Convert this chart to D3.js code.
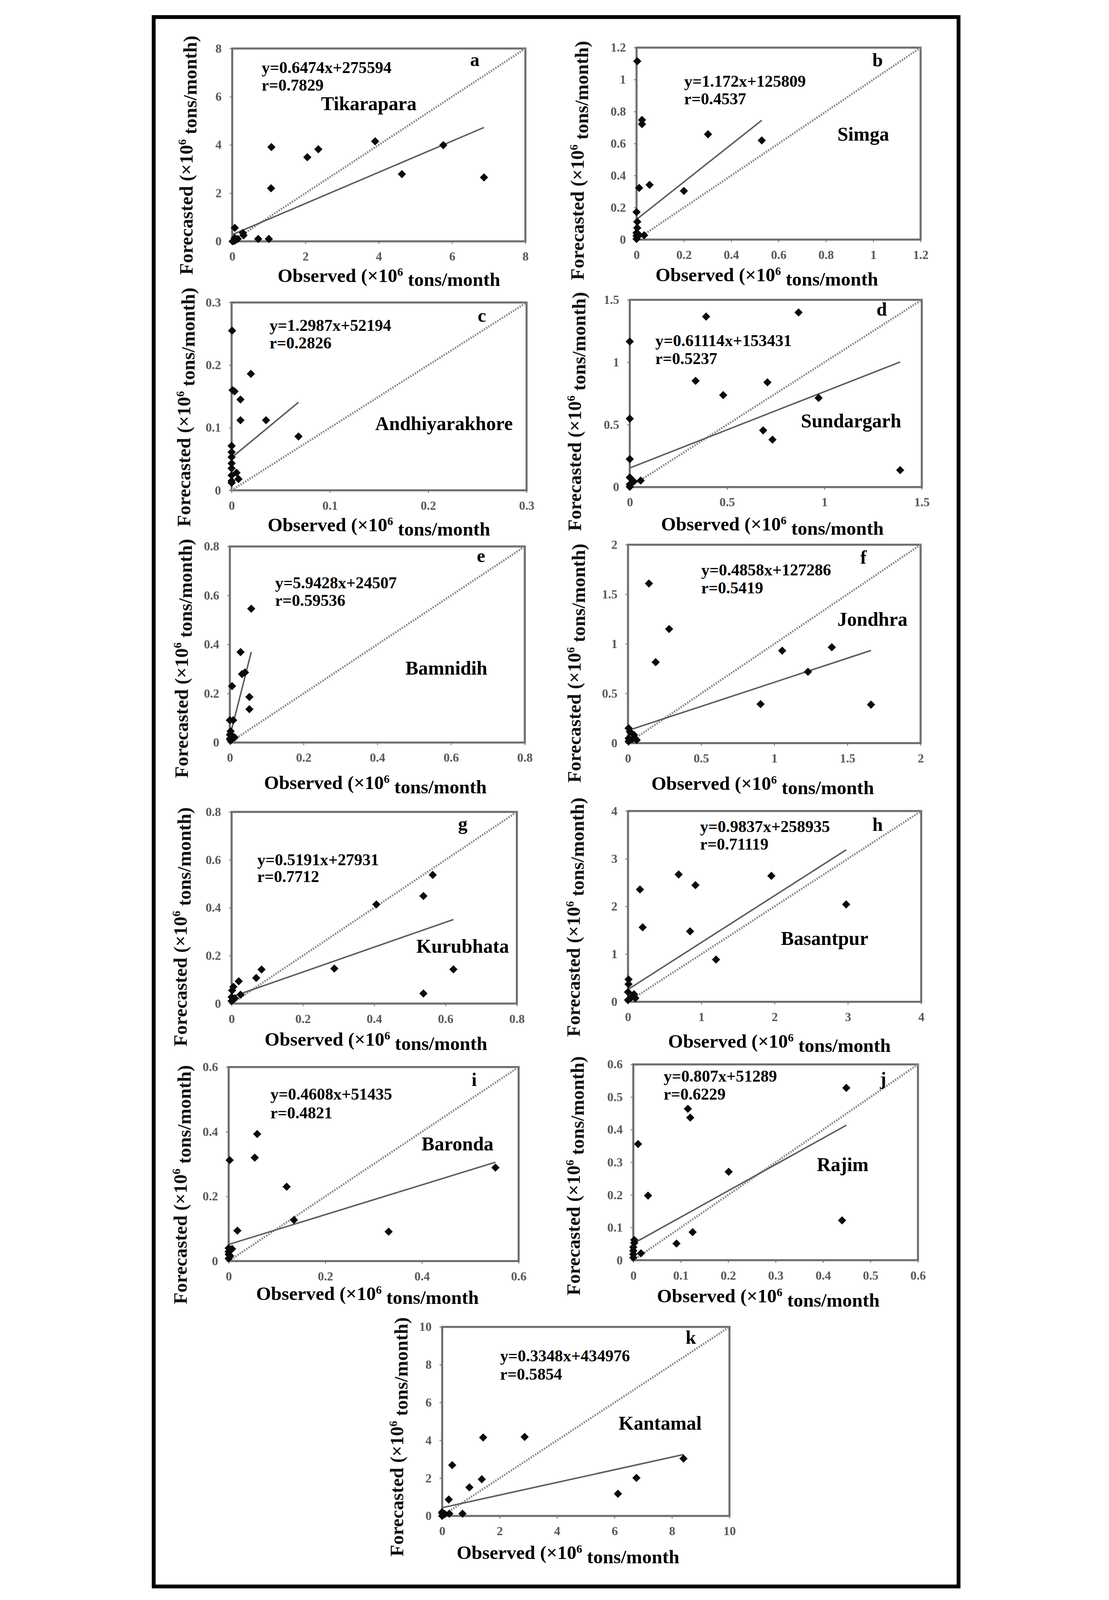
<!doctype html>
<meta charset="utf-8">
<style>
  html, body { margin: 0; padding: 0; background: #fff; overflow: hidden; }
  svg { display: block; }
  text { font-family: "Liberation Serif", "Times New Roman", serif; font-weight: bold; }
  .tick text { fill: #595959; font-size: 42px; }
  .tick line { stroke: #777; stroke-width: 3; }
</style>
<body>
<script src="https://cdnjs.cloudflare.com/ajax/libs/d3/7.8.5/d3.min.js"></script>
<script>
// panels a..k
var stations = ['Tikarapara', 'Simga', 'Andhiyarakhore', 'Sundargarh', 'Bamnidih', 'Jondhra',
                'Kurubhata', 'Basantpur', 'Baronda', 'Rajim', 'Kantamal'];
var letters = ['a', 'b', 'c', 'd', 'e', 'f', 'g', 'h', 'i', 'j', 'k'];
var slopes = [0.6474, 1.172, 1.2987, 0.61114, 5.9428, 0.4858, 0.5191, 0.9837, 0.4608, 0.807, 0.3348];
var intercepts = [275594, 125809, 52194, 153431, 24507, 127286, 27931, 258935, 51435, 51289, 434976];
var rValues = ['0.7829', '0.4537', '0.2826', '0.5237', '0.59536', '0.5419', '0.7712', '0.71119', '0.4821', '0.6229', '0.5854'];
var axisMax = [8, 1.2, 0.3, 1.5, 0.8, 2, 0.8, 4, 0.6, 0.6, 10];
var tickCounts = [4, 6, 3, 3, 4, 4, 4, 4, 3, 6, 5];

// observed / forecasted (x10^6 tons/month)
var obsTikarapara = [1.07, 2.35, 2.05, 3.90, 5.76, 4.63, 6.87, 1.06, 0.71, 1.00, 0.07, 0.29, 0.31, 0.07, 0.10, 0.01, 0.06, 0.15];
var fcTikarapara  = [3.91, 3.82, 3.49, 4.15, 3.99, 2.79, 2.65, 2.20, 0.10, 0.10, 0.56, 0.35, 0.25, 0.14, 0.06, 0.00, 0.02, 0.10];
var obsSimga = [0.003, 0.023, 0.023, 0.302, 0.529, 0.055, 0.011, 0.200, 0.000, 0.003, 0.003, 0.000, 0.000, 0.011, 0.032, 0.000];
var fcSimga  = [1.115, 0.748, 0.722, 0.658, 0.620, 0.342, 0.323, 0.304, 0.172, 0.111, 0.073, 0.042, 0.023, 0.029, 0.027, 0.004];
var obsAndhiyarakhore = [0.0005, 0.0196, 0.001, 0.003, 0.009, 0.009, 0.035, 0.068, 0, 0, 0, 0, 0, 0.005, 0, 0.007, 0, 0];
var fcAndhiyarakhore  = [0.255, 0.186, 0.160, 0.158, 0.145, 0.112, 0.112, 0.086, 0.071, 0.061, 0.053, 0.043, 0.035, 0.028, 0.024, 0.018, 0.015, 0.012];
var obsSundargarh = [0.392, 0.867, 0, 0.338, 0.707, 0.480, 0.970, 0, 0.685, 0.733, 0, 1.389, 0, 0.020, 0.056, 0, 0];
var fcSundargarh  = [1.366, 1.399, 1.166, 0.851, 0.839, 0.737, 0.714, 0.548, 0.454, 0.380, 0.224, 0.136, 0.077, 0.046, 0.052, 0.021, 0.002];
var obsBamnidih = [0.058, 0.029, 0.033, 0.041, 0.006, 0.053, 0.053, 0, 0.009, 0.002, 0, 0.007, 0.013, 0, 0.002];
var fcBamnidih  = [0.546, 0.369, 0.279, 0.286, 0.230, 0.186, 0.136, 0.091, 0.091, 0.046, 0.032, 0.026, 0.021, 0.015, 0.008];
var obsJondhra = [0.143, 0.281, 0.189, 1.054, 1.393, 1.230, 0.906, 1.661, 0.004, 0.013, 0.041, 0.004, 0.059, 0.004, 0.030];
var fcJondhra  = [1.609, 1.150, 0.816, 0.932, 0.966, 0.719, 0.393, 0.388, 0.150, 0.116, 0.082, 0.048, 0.031, 0.017, 0.040];
var obsKurubhata = [0.564, 0.538, 0.406, 0.288, 0.622, 0.538, 0.084, 0.069, 0.020, 0.005, 0.0015, 0.025, 0, 0.009, 0];
var fcKurubhata  = [0.537, 0.449, 0.414, 0.146, 0.143, 0.042, 0.142, 0.107, 0.093, 0.070, 0.055, 0.037, 0.027, 0.022, 0.011];
var obsBasantpur = [0.691, 1.956, 0.920, 0.163, 2.976, 0.200, 0.847, 1.201, 0.007, 0.007, 0, 0.081, 0.044, 0.100, 0];
var fcBasantpur  = [2.670, 2.641, 2.445, 2.356, 2.042, 1.562, 1.477, 0.886, 0.469, 0.369, 0.203, 0.159, 0.092, 0.074, 0.037];
var obsBaronda = [0.059, 0.054, 0.002, 0.120, 0.552, 0.135, 0.018, 0.331, 0.007, 0, 0, 0.003, 0, 0];
var fcBaronda  = [0.393, 0.320, 0.312, 0.230, 0.289, 0.127, 0.094, 0.091, 0.0375, 0.029, 0.021, 0.016, 0.008, 0.040];
var obsRajim = [0.449, 0.115, 0.120, 0.010, 0.201, 0.031, 0.440, 0.125, 0.091, 0.002, 0.002, 0, 0, 0.016, 0, 0];
var fcRajim  = [0.528, 0.464, 0.437, 0.356, 0.271, 0.198, 0.122, 0.086, 0.051, 0.062, 0.053, 0.040, 0.029, 0.021, 0.018, 0.008];
var obsKantamal = [1.426, 2.870, 0.350, 1.380, 0.948, 8.40, 6.762, 6.118, 0.230, 0.708, 0, 0.09, 0.248, 0, 0];
var fcKantamal  = [4.149, 4.179, 2.687, 1.940, 1.512, 3.035, 2.010, 1.174, 0.866, 0.119, 0.199, 0.10, 0.119, 0, 0.15];

var observed = [obsTikarapara, obsSimga, obsAndhiyarakhore, obsSundargarh, obsBamnidih, obsJondhra,
                obsKurubhata, obsBasantpur, obsBaronda, obsRajim, obsKantamal];
var forecasted = [fcTikarapara, fcSimga, fcAndhiyarakhore, fcSundargarh, fcBamnidih, fcJondhra,
                  fcKurubhata, fcBasantpur, fcBaronda, fcRajim, fcKantamal];

// page layout (pixels): plot box, annotation spots, axis titles
var layout = [
  {box: [323, 165, 1320, 821],   eq: [423, 248, 308],    name: [625, 375],   let: [1132, 225],  xt: [856, 959],   yt: [188, 528]},
  {box: [1698, 162, 2664, 815],  eq: [1860, 295, 355],   name: [2381, 479],  let: [2500, 226],  xt: [2141, 957],  yt: [1519, 546]},
  {box: [321, 1029, 1324, 1668], eq: [450, 1125, 1185],  name: [809, 1463],  let: [1158, 1095], xt: [822, 1807],  yt: [181, 1385]},
  {box: [1675, 1020, 2668, 1657],eq: [1762, 1177, 1238], name: [2257, 1454], let: [2514, 1074], xt: [2160, 1805], yt: [1510, 1400]},
  {box: [315, 1859, 1318, 2526], eq: [469, 2001, 2061],  name: [912, 2295],  let: [1155, 1912], xt: [810, 2684],  yt: [172, 2240]},
  {box: [1669, 1853, 2664, 2528],eq: [1918, 1958, 2018], name: [2381, 2129], let: [2459, 1917], xt: [2127, 2687], yt: [1508, 2256]},
  {box: [321, 2762, 1291, 3414], eq: [408, 2944, 3001],  name: [949, 3241],  let: [1091, 2824], xt: [812, 3558],  yt: [168, 3153]},
  {box: [1669, 2759, 2666, 3408],eq: [1914, 2830, 2890], name: [2189, 3214], let: [2500, 2827], xt: [2184, 3564], yt: [1505, 3120]},
  {box: [311, 3630, 1297, 4290], eq: [453, 3741, 3805],  name: [967, 3913],  let: [1137, 3694], xt: [783, 4422],  yt: [168, 4030]},
  {box: [1687, 3621, 2655, 4287],eq: [1790, 3680, 3741], name: [2311, 3984], let: [2526, 3691], xt: [2146, 4431], yt: [1505, 4000]},
  {box: [1037, 4514, 2014, 5157],eq: [1234, 4631, 4693], name: [1637, 4864], let: [1865, 4571], xt: [1465, 5304], yt: [905, 4888]}
];

var W = 2838, H = 5443;
// fit the whole figure into whatever viewport we get
var vw = window.innerWidth || W, vh = window.innerHeight || H;
var svg = d3.select('body').append('svg')
  .attr('width', vw).attr('height', vh)
  .attr('viewBox', '0 0 ' + W + ' ' + H)
  .attr('preserveAspectRatio', 'xMidYMin meet');

svg.append('rect').attr('width', W).attr('height', H).attr('fill', '#fff');
// outer frame
svg.append('rect')
  .attr('x', 56).attr('y', 58).attr('width', 2737).attr('height', 5339)
  .attr('fill', 'none').attr('stroke', '#000').attr('stroke-width', 13);

var fmt = d3.format('~g');

function diamond(w, h){
  return 'M0,' + (-h) + 'L' + w + ',0L0,' + h + 'L' + (-w) + ',0Z';
}

function superText(sel, before, after){
  sel.append('tspan').text(before);
  sel.append('tspan').text('6').attr('font-size', '0.6em').attr('dy', '-0.55em');
  sel.append('tspan').text(after).attr('dy', '0.55em');
}

stations.forEach(function(name, i){
  var L = layout[i], b = L.box, max = axisMax[i];
  var x = d3.scaleLinear().domain([0, max]).range([b[0], b[2]]);
  var y = d3.scaleLinear().domain([0, max]).range([b[3], b[1]]);
  var ticks = d3.ticks(0, max, tickCounts[i]);
  var g = svg.append('g').attr('class', 'panel ' + letters[i]);

  // axes (ticks + labels only, frame drawn below)
  g.append('g').attr('transform', 'translate(0,' + b[3] + ')')
    .call(d3.axisBottom(x).tickValues(ticks).tickFormat(fmt).tickSize(9).tickPadding(27))
    .call(function(a){ a.select('.domain').remove(); });
  g.append('g').attr('transform', 'translate(' + b[0] + ',0)')
    .call(d3.axisLeft(y).tickValues(ticks).tickFormat(fmt).tickSize(9).tickPadding(27))
    .call(function(a){ a.select('.domain').remove(); });
  g.selectAll('.tick text').attr('font-family', null);

  // plot frame
  g.append('rect')
    .attr('x', x(0)).attr('y', y(max))
    .attr('width', x(max) - x(0)).attr('height', y(0) - y(max))
    .attr('fill', 'none').attr('stroke', '#6f6f6f').attr('stroke-width', 7);

  // 1:1 line
  g.append('line')
    .attr('x1', x(0)).attr('y1', y(0)).attr('x2', x(max)).attr('y2', y(max))
    .attr('stroke', '#8c8c8c').attr('stroke-width', 7).attr('stroke-dasharray', '5 4');

  // fitted line
  var a = intercepts[i] / 1e6, s = slopes[i], xEnd = d3.max(observed[i]);
  g.append('line')
    .attr('x1', x(0)).attr('y1', y(a)).attr('x2', x(xEnd)).attr('y2', y(a + s * xEnd))
    .attr('stroke', '#5c5c5c').attr('stroke-width', 5);

  // points
  var pts = observed[i].map(function(o, k){ return [o, forecasted[i][k]]; });
  g.selectAll('path.pt').data(pts).enter().append('path')
    .attr('class', 'pt')
    .attr('d', diamond(14, 14))
    .attr('transform', function(d){ return 'translate(' + x(d[0]) + ',' + y(d[1]) + ')'; })
    .attr('fill', '#0a0a0a');

  // annotations
  g.append('text').attr('x', L.eq[0]).attr('y', L.eq[1]).attr('font-size', 56)
    .text('y=' + s + 'x+' + intercepts[i]);
  g.append('text').attr('x', L.eq[0]).attr('y', L.eq[2]).attr('font-size', 56)
    .text('r=' + rValues[i]);
  g.append('text').attr('x', L.name[0]).attr('y', L.name[1]).attr('font-size', 66).text(name);
  g.append('text').attr('x', L.let[0]).attr('y', L.let[1]).attr('font-size', 64).text(letters[i]);

  // axis titles
  g.append('text').attr('x', L.xt[0]).attr('y', L.xt[1]).attr('font-size', 65)
    .attr('text-anchor', 'middle')
    .call(superText, 'Observed (\u00d710', ' tons/month');
  g.append('text').attr('font-size', 65).attr('fill', '#111')
    .attr('text-anchor', 'middle')
    .attr('transform', 'translate(' + L.yt[0] + ',' + L.yt[1] + ') rotate(-90)')
    .call(superText, 'Forecasted (\u00d710', ' tons/month)');
});
</script>
</body>
